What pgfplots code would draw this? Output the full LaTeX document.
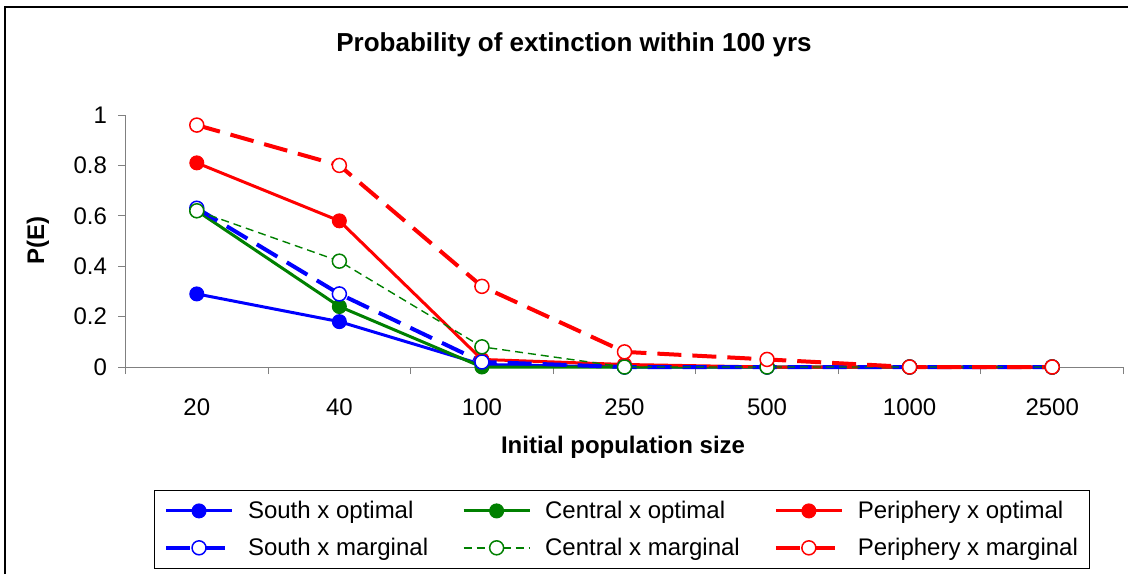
\documentclass[border=0pt]{standalone}
\usepackage{fontspec}
\setmainfont{Liberation Sans}
\usepackage{pgfplots}
\pgfplotsset{compat=1.18}
\definecolor{xblue}{RGB}{0,0,255}
\definecolor{xgreen}{RGB}{0,128,0}
\definecolor{xred}{RGB}{255,0,0}
\definecolor{axgray}{RGB}{128,128,128}
\begin{document}
\begin{tikzpicture}[x=1pt,y=1pt]
\useasboundingbox (0,0) rectangle (1128,574);
\draw[line width=2.5pt] (5,0) -- (5,567) -- (1128,567);
\node[font=\fontsize{26}{30}\selectfont\bfseries] at (574,529) {Probability of extinction within 100 yrs};
\node[font=\fontsize{24}{28}\selectfont\bfseries] at (623,127) {Initial population size};
\node[font=\fontsize{24}{28}\selectfont\bfseries, rotate=90] at (38,333) {P(E)};
\begin{axis}[
  at={(125.5pt,207pt)}, anchor=south west,
  scale only axis, width=998pt, height=252pt,
  xmin=-0.5, xmax=6.5, ymin=0, ymax=1,
  axis x line=bottom, axis y line=left,
  axis line style={-, axgray, line width=1pt},
  xtick={-0.5,0.5,1.5,2.5,3.5,4.5,5.5,6.5}, x tick label as interval,
  xticklabels={20,40,100,250,500,1000,2500},
  ytick={0,0.2,0.4,0.6,0.8,1},
  tick style={axgray, line width=1pt},
  tick align=outside, major tick length=7pt,
  ticklabel style={font=\fontsize{24}{28}\selectfont},
  xticklabel style={yshift=-21pt},
  yticklabel style={xshift=-8pt},
  /pgf/number format/assume math mode=true,
  clip=false,
  legend columns=3,
  legend cell align=left,
  legend style={at={(0.4975,-0.488)}, anchor=north, draw=black, line width=1pt, fill=white,
    font=\fontsize{24}{28}\selectfont, inner xsep=10pt, inner ysep=9pt, row sep=14pt,
    /tikz/every odd column/.append style={column sep=12pt},
    /tikz/every even column/.append style={column sep=32pt}},
  legend image code/.code={\draw[mark repeat=2,mark phase=2] plot coordinates {(0pt,0pt) (33pt,0pt) (66pt,0pt)};},
]
\addplot[xblue, line width=3pt, mark=*, mark size=7pt, mark options={solid, fill=xblue, line width=1pt}]
  coordinates {(0,0.29)(1,0.18)(2,0.01)(3,0)(4,0)(5,0)(6,0)};
\addlegendentry{South x optimal}
\addplot[xgreen, line width=3pt, mark=*, mark size=7pt, mark options={solid, fill=xgreen, line width=1pt}]
  coordinates {(0,0.62)(1,0.24)(2,0)(3,0)(4,0)(5,0)(6,0)};
\addlegendentry{Central x optimal}
\addplot[xred, line width=3pt, mark=*, mark size=7pt, mark options={solid, fill=xred, line width=1pt}]
  coordinates {(0,0.81)(1,0.58)(2,0.03)(3,0.01)(4,0)(5,0)(6,0)};
\addlegendentry{Periphery x optimal}
\addplot[xblue, line width=4pt, dash pattern=on 24pt off 11pt, mark=*, mark size=7pt, mark options={solid, fill=white, line width=1.5pt}]
  coordinates {(0,0.63)(1,0.29)(2,0.02)(3,0)(4,0)(5,0)(6,0)};
\addlegendentry{South x marginal}
\addplot[xgreen, line width=1.4pt, dash pattern=on 8pt off 5pt, mark=*, mark size=7pt, mark options={solid, fill=white, line width=1.5pt}]
  coordinates {(0,0.62)(1,0.42)(2,0.08)(3,0)(4,0)(5,0)(6,0)};
\addlegendentry{Central x marginal}
\addplot[xred, line width=4pt, dash pattern=on 24pt off 11pt, mark=*, mark size=7pt, mark options={solid, fill=white, line width=1.5pt}]
  coordinates {(0,0.96)(1,0.80)(2,0.32)(3,0.06)(4,0.03)(5,0)(6,0)};
\addlegendentry{Periphery x marginal}
\end{axis}
\end{tikzpicture}
\end{document}
